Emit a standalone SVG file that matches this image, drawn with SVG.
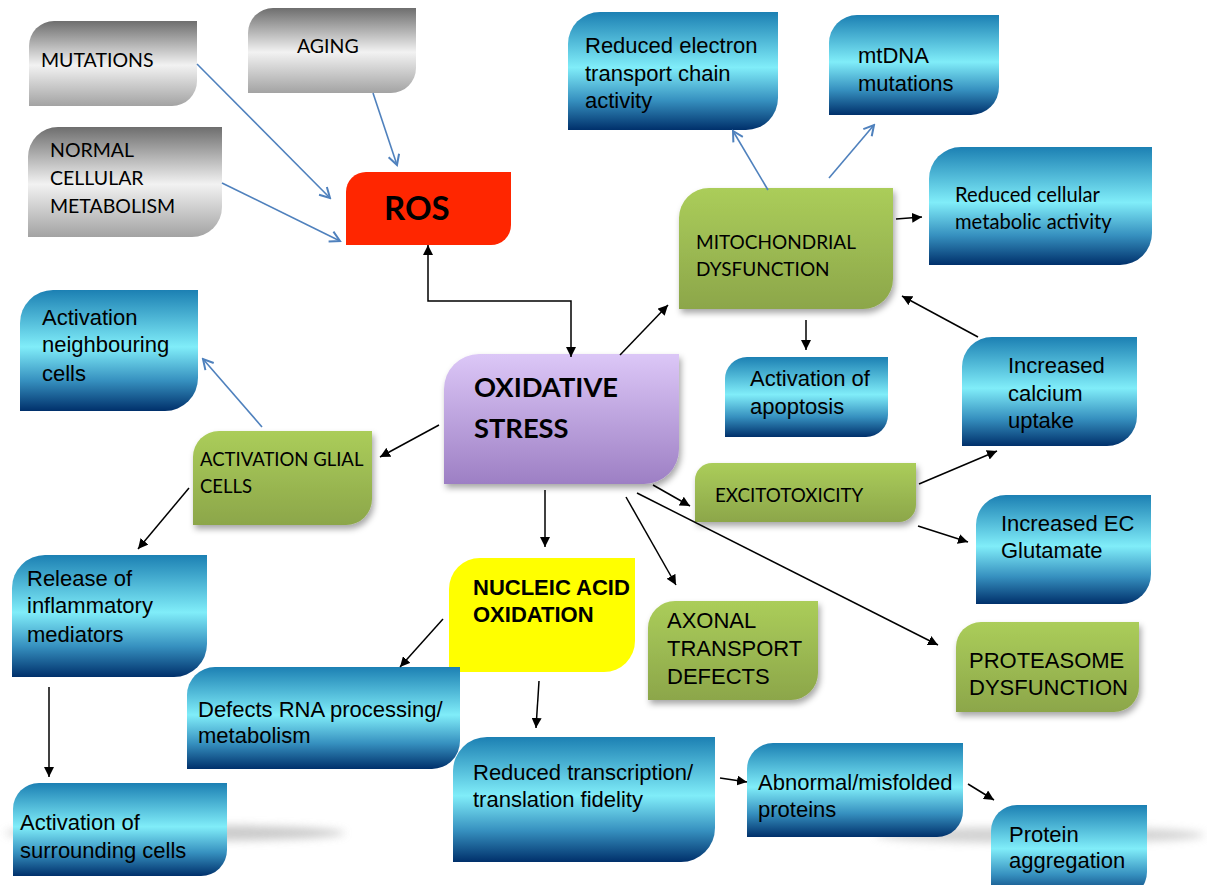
<svg xmlns="http://www.w3.org/2000/svg" width="1207" height="885" viewBox="0 0 1207 885">
<style>
.cal{font-family:Lato,"Open Sans","Liberation Sans",sans-serif;fill:#000}
.ar{font-family:"Liberation Sans",Arial,sans-serif;fill:#000;font-size:22px}
.blk{stroke:#000;stroke-width:1.5;fill:none;marker-end:url(#ah)}
.blu{stroke:#4f81bd;stroke-width:1.6;fill:none;marker-end:url(#ob)}
.gray{fill:url(#gGray)}
.blue{fill:url(#gBlue)}
.green{fill:url(#gGreen);filter:url(#ds)}
</style>
<defs>
<linearGradient id="gGray" x1="0" y1="0" x2="0" y2="1">
<stop offset="0" stop-color="#6e6e6e"/><stop offset="0.52" stop-color="#f2f2f2"/><stop offset="1" stop-color="#a3a3a3"/>
</linearGradient>
<linearGradient id="gBlue" x1="0" y1="0" x2="0" y2="1">
<stop offset="0" stop-color="#1c80b3"/><stop offset="0.47" stop-color="#80edf9"/><stop offset="0.75" stop-color="#3690bf"/><stop offset="1" stop-color="#00306b"/>
</linearGradient>
<linearGradient id="gGreen" x1="0" y1="0" x2="0" y2="1">
<stop offset="0" stop-color="#abcd5a"/><stop offset="1" stop-color="#8ca64a"/>
</linearGradient>
<linearGradient id="gPurple" x1="0" y1="0" x2="0" y2="1">
<stop offset="0" stop-color="#dcc7f7"/><stop offset="1" stop-color="#9d7fc4"/>
</linearGradient>
<filter id="ds" x="-10%" y="-10%" width="130%" height="130%">
<feDropShadow dx="2" dy="4" stdDeviation="3" flood-color="#000" flood-opacity="0.35"/>
</filter>
<filter id="blur" x="-20%" y="-200%" width="140%" height="500%">
<feGaussianBlur stdDeviation="4"/>
</filter>
<marker id="ah" markerWidth="11" markerHeight="10" refX="10" refY="5" orient="auto-start-reverse" markerUnits="userSpaceOnUse">
<path d="M0,0 L10,5 L0,10 z" fill="#000"/>
</marker>
<marker id="ob" markerWidth="14" markerHeight="14" refX="12" refY="7" orient="auto" markerUnits="userSpaceOnUse">
<path d="M2,1.5 L12,7 L2,12.5" fill="none" stroke="#4f81bd" stroke-width="2"/>
</marker>
</defs>

<g id="reflections">
<ellipse cx="175" cy="833" rx="170" ry="8" fill="#b5b5b5" opacity="0.7" filter="url(#blur)"/>
<ellipse cx="1040" cy="835" rx="165" ry="8" fill="#b5b5b5" opacity="0.6" filter="url(#blur)"/>
</g>

<g id="mutations"><path class="gray" d="M54,21 H197 V81 A25 25 0 0 1 172,106 H29 V46 A25 25 0 0 1 54,21 Z"/><text class="cal" font-size="19.5" x="41" y="67">MUTATIONS</text></g>
<g id="aging"><path class="gray" d="M273,8 H416 V68 A25 25 0 0 1 391,93 H248 V33 A25 25 0 0 1 273,8 Z"/><text class="cal" font-size="19.5" x="297" y="53">AGING</text></g>
<g id="normal"><path class="gray" d="M58,127 H222 V207 A30 30 0 0 1 192,237 H28 V157 A30 30 0 0 1 58,127 Z"/><text class="cal" font-size="19.5"><tspan x="50" y="157">NORMAL</tspan><tspan x="50" y="185">CELLULAR</tspan><tspan x="50" y="213">METABOLISM</tspan></text></g>
<g id="ros"><path fill="#ff2600" d="M366,172 H511 V225 A20 20 0 0 1 491,245 H346 V192 A20 20 0 0 1 366,172 Z"/><text class="cal" font-size="33" font-weight="bold" x="384" y="220">ROS</text></g>

<g id="reduced-etc"><path class="blue" d="M600,12 H778 V98 A32 32 0 0 1 746,130 H568 V44 A32 32 0 0 1 600,12 Z"/><text class="ar" font-size="22.5"><tspan x="585" y="53">Reduced electron</tspan><tspan x="585" y="80.5">transport chain</tspan><tspan x="585" y="108">activity</tspan></text></g>
<g id="mtdna"><path class="blue" d="M857,15 H999 V87 A28 28 0 0 1 971,115 H829 V43 A28 28 0 0 1 857,15 Z"/><text class="ar"><tspan x="858" y="63">mtDNA</tspan><tspan x="858" y="91">mutations</tspan></text></g>
<g id="reduced-cma"><path class="blue" d="M961,147 H1152 V233 A32 32 0 0 1 1120,265 H929 V179 A32 32 0 0 1 961,147 Z"/><text class="cal" font-size="20.2"><tspan x="955" y="202">Reduced cellular</tspan><tspan x="955" y="229">metabolic activity</tspan></text></g>
<g id="mito"><path class="green" d="M709,188 H893 V279 A30 30 0 0 1 863,309 H679 V218 A30 30 0 0 1 709,188 Z"/><text class="cal" font-size="19"><tspan x="696" y="249">MITOCHONDRIAL</tspan><tspan x="696" y="276">DYSFUNCTION</tspan></text></g>
<g id="apoptosis"><path class="blue" d="M747,357 H888 V415 A22 22 0 0 1 866,437 H725 V379 A22 22 0 0 1 747,357 Z"/><text class="ar"><tspan x="750" y="386">Activation of</tspan><tspan x="750" y="414">apoptosis</tspan></text></g>
<g id="calcium"><path class="blue" d="M992,337 H1137 V416 A30 30 0 0 1 1107,446 H962 V367 A30 30 0 0 1 992,337 Z"/><text class="ar"><tspan x="1008" y="373">Increased</tspan><tspan x="1008" y="401">calcium</tspan><tspan x="1008" y="428">uptake</tspan></text></g>
<g id="excito"><path class="green" d="M712,463 H916 V505 A17 17 0 0 1 899,522 H695 V480 A17 17 0 0 1 712,463 Z"/><text class="cal" font-size="18.8" x="715" y="502">EXCITOTOXICITY</text></g>
<g id="glutamate"><path class="blue" d="M1006,495 H1151 V574 A30 30 0 0 1 1121,604 H976 V525 A30 30 0 0 1 1006,495 Z"/><text class="ar"><tspan x="1001" y="531">Increased EC</tspan><tspan x="1001" y="558">Glutamate</tspan></text></g>
<g id="proteasome"><path class="green" d="M981,622 H1139 V687 A25 25 0 0 1 1114,712 H956 V647 A25 25 0 0 1 981,622 Z"/><text class="ar"><tspan x="969" y="668">PROTEASOME</tspan><tspan x="969" y="695">DYSFUNCTION</tspan></text></g>
<g id="axonal"><path class="green" d="M675,601 H818 V673 A27 27 0 0 1 791,700 H648 V628 A27 27 0 0 1 675,601 Z"/><text class="ar"><tspan x="667" y="628">AXONAL</tspan><tspan x="667" y="656">TRANSPORT</tspan><tspan x="667" y="684">DEFECTS</tspan></text></g>
<g id="oxidative-stress"><path fill="url(#gPurple)" filter="url(#ds)" d="M479,354 H679 V449 A35 35 0 0 1 644,484 H444 V389 A35 35 0 0 1 479,354 Z"/><text class="cal" font-size="27.3" font-weight="bold"><tspan x="474" y="397">OXIDATIVE</tspan><tspan x="474" y="438">STRESS</tspan></text></g>
<g id="glial"><path class="green" d="M219,431 H372 V499 A26 26 0 0 1 346,525 H193 V457 A26 26 0 0 1 219,431 Z"/><text class="cal" font-size="18.5"><tspan x="200" y="466">ACTIVATION GLIAL</tspan><tspan x="200" y="493">CELLS</tspan></text></g>
<g id="neighbouring"><path class="blue" d="M53,290 H198 V378 A33 33 0 0 1 165,411 H20 V323 A33 33 0 0 1 53,290 Z"/><text class="ar"><tspan x="42" y="325">Activation</tspan><tspan x="42" y="352">neighbouring</tspan><tspan x="42" y="381">cells</tspan></text></g>
<g id="release"><path class="blue" d="M45,555 H207 V644 A33 33 0 0 1 174,677 H12 V588 A33 33 0 0 1 45,555 Z"/><text class="ar"><tspan x="27" y="586">Release of</tspan><tspan x="27" y="613">inflammatory</tspan><tspan x="27" y="642">mediators</tspan></text></g>
<g id="surrounding"><path class="blue" d="M39,783 H227 V850 A26 26 0 0 1 201,876 H13 V809 A26 26 0 0 1 39,783 Z"/><text class="ar"><tspan x="20" y="830">Activation of</tspan><tspan x="20" y="858">surrounding cells</tspan></text></g>
<g id="nucleic"><path fill="#ffff00" d="M480,558 H635 V641 A31 31 0 0 1 604,672 H449 V589 A31 31 0 0 1 480,558 Z"/><text class="ar" font-size="20.5" font-weight="bold"><tspan x="473" y="595">NUCLEIC ACID</tspan><tspan x="473" y="622">OXIDATION</tspan></text></g>
<g id="defects-rna"><path class="blue" d="M215,667 H460 V741 A28 28 0 0 1 432,769 H187 V695 A28 28 0 0 1 215,667 Z"/><text class="ar" font-size="21.5"><tspan x="198" y="717">Defects RNA processing/</tspan><tspan x="198" y="743">metabolism</tspan></text></g>
<g id="reduced-transcription"><path class="blue" d="M487,737 H715 V828 A34 34 0 0 1 681,862 H453 V771 A34 34 0 0 1 487,737 Z"/><text class="ar" font-size="21.5"><tspan x="473" y="780">Reduced transcription/</tspan><tspan x="473" y="807">translation fidelity</tspan></text></g>
<g id="abnormal"><path class="blue" d="M773,743 H963 V811 A26 26 0 0 1 937,837 H747 V769 A26 26 0 0 1 773,743 Z"/><text class="ar" font-size="21.5"><tspan x="758" y="790">Abnormal/misfolded</tspan><tspan x="758" y="817">proteins</tspan></text></g>
<g id="aggregation"><path class="blue" d="M1017,805 H1147 V872 A26 26 0 0 1 1121,898 H991 V831 A26 26 0 0 1 1017,805 Z"/><text class="ar" font-size="21.5"><tspan x="1009" y="842">Protein</tspan><tspan x="1009" y="868">aggregation</tspan></text></g>

<g id="connectors">
<line class="blu" x1="197" y1="64" x2="330" y2="198"/>
<line class="blu" x1="373" y1="93" x2="397" y2="165"/>
<line class="blu" x1="222" y1="183" x2="340" y2="241"/>
<line class="blu" x1="768" y1="190" x2="733" y2="131"/>
<line class="blu" x1="829" y1="178" x2="874" y2="125"/>
<line class="blu" x1="262" y1="427" x2="203" y2="359"/>
<path class="blk" d="M428,245 V301 H571 V357" marker-start="url(#ah)"/>
<line class="blk" x1="620" y1="355" x2="668" y2="305"/>
<line class="blk" x1="896" y1="219" x2="922" y2="217"/>
<line class="blk" x1="806" y1="320" x2="806" y2="350"/>
<line class="blk" x1="978" y1="337" x2="902" y2="296"/>
<line class="blk" x1="439" y1="425" x2="380" y2="457"/>
<line class="blk" x1="653" y1="485" x2="690" y2="506"/>
<line class="blk" x1="919" y1="484" x2="997" y2="451"/>
<line class="blk" x1="918" y1="526" x2="968" y2="542"/>
<line class="blk" x1="545" y1="490" x2="545" y2="547"/>
<line class="blk" x1="626" y1="497" x2="676" y2="585"/>
<line class="blk" x1="637" y1="493" x2="938" y2="645"/>
<line class="blk" x1="189" y1="488" x2="138" y2="549"/>
<line class="blk" x1="49" y1="687" x2="49" y2="777"/>
<line class="blk" x1="443" y1="619" x2="400" y2="667"/>
<line class="blk" x1="539" y1="681" x2="536" y2="728"/>
<line class="blk" x1="720" y1="778" x2="747" y2="782"/>
<line class="blk" x1="968" y1="784" x2="994" y2="800"/>
</g>
</svg>
